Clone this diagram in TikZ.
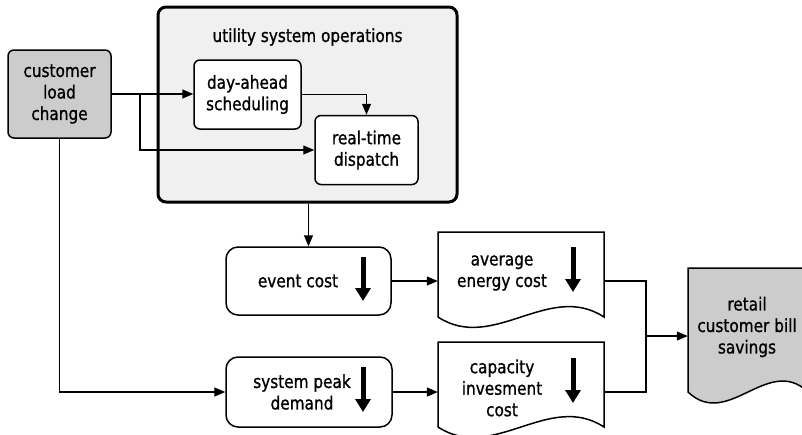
\documentclass[tikz,border=0pt]{standalone}
\usepackage{fontspec}
\setmainfont{DejaVu Sans}[FakeStretch=0.85, BoldFont={DejaVu Sans}, BoldFeatures={FakeBold=1}]
\usetikzlibrary{arrows.meta}
\begin{document}
\begin{tikzpicture}[x=1pt,y=-1pt,
  lbl/.style={font=\fontsize{18}{21.5}\selectfont\bfseries, align=center, inner sep=0pt},
  box/.style={draw, line width=1.5pt, rounded corners=6pt, fill=white, inner sep=0pt, lbl},
  conn/.style={line width=1.3pt, -{Triangle[length=11pt,width=9pt]}},
  plain/.style={line width=1.3pt},
  bigarrow/.style={line width=5pt, -{Triangle[length=13pt,width=15pt]}},
  doc/.style={draw, line width=1.5pt},
  anchorbox/.style={draw=none, inner sep=0pt}]
\useasboundingbox (0,0) rectangle (802,434);
\clip (0,0) rectangle (802,434);
% utility system operations
\node[draw, line width=3pt, rounded corners=8pt, fill=gray!12, minimum width=299pt, minimum height=195pt] (uso) at (307.5,104.5) {};
\node[lbl] (usot) at (307.5,37) {utility system operations};
% customer
\node[box, fill=gray!40, minimum width=103pt, minimum height=88pt] (cust) at (59.5,94) {customer\\load\\change};
\node[box, minimum width=107pt, minimum height=69pt] (day) at (247.5,94.5) {day-ahead\\scheduling};
\node[box, minimum width=103pt, minimum height=69pt] (rt) at (366.5,150) {real-time\\dispatch};
% cost boxes
\node[box, rounded corners=12pt, minimum width=165pt, minimum height=68pt] (evt) at (308.5,281) {};
\node[lbl] (evtt) at (298,281) {event cost};
\node[box, rounded corners=12pt, minimum width=166pt, minimum height=70pt] (spd) at (309,392) {};
\node[lbl] (spdt) at (302,392) {system peak\\demand};
% document shapes
\path[doc, fill=white] (438,232) -- (604,232) -- (604,317) .. controls (549,281) and (493,353) .. (438,317) -- cycle;
\node[anchorbox, minimum width=166pt, minimum height=85pt] (avg) at (521,274.5) {};
\node[lbl] (avgt) at (502,273) {average\\energy cost};
\path[doc, fill=white] (438,342) -- (604,342) -- (604,427) .. controls (549,391) and (493,463) .. (438,427) -- cycle;
\node[anchorbox, minimum width=166pt, minimum height=85pt] (cap) at (521,384.5) {};
\node[lbl] (capt) at (502,388) {capacity\\invesment\\cost};
\path[doc, fill=gray!40] (688,268) -- (808,268) -- (808,392) .. controls (768,354) and (728,430) .. (688,392) -- cycle;
\node[anchorbox, minimum width=120pt, minimum height=124pt] (ret) at (748,330) {};
\node[lbl] (rett) at (747,327) {retail\\customer bill\\savings};
% big down arrows
\draw[bigarrow] (363,257) -- (363,301);
\draw[bigarrow] (363,367) -- (363,412);
\draw[bigarrow] (573,247) -- (573,292);
\draw[bigarrow] (573,358) -- (573,403);
% connectors
\coordinate (b1) at (140,94);
\draw[conn] (cust.east) -- (cust.east -| day.west);
\draw[conn] (b1) |- (rt.west);
\draw[conn] (day.east) -| (rt.north);
\draw[conn] (uso.south -| evt.north) -- (evt.north);
\draw[conn] (cust.south) |- (spd.west);
\draw[conn] (evt.east) -- (evt.east -| avg.west);
\draw[conn] (spd.east) -- (spd.east -| cap.west);
\coordinate (j) at (646,336);
\draw[plain] (evt.east -| avg.east) -| (j) |- (spd.east -| cap.east);
\draw[conn] (j) -- (j -| ret.west);
\end{tikzpicture}
\end{document}
